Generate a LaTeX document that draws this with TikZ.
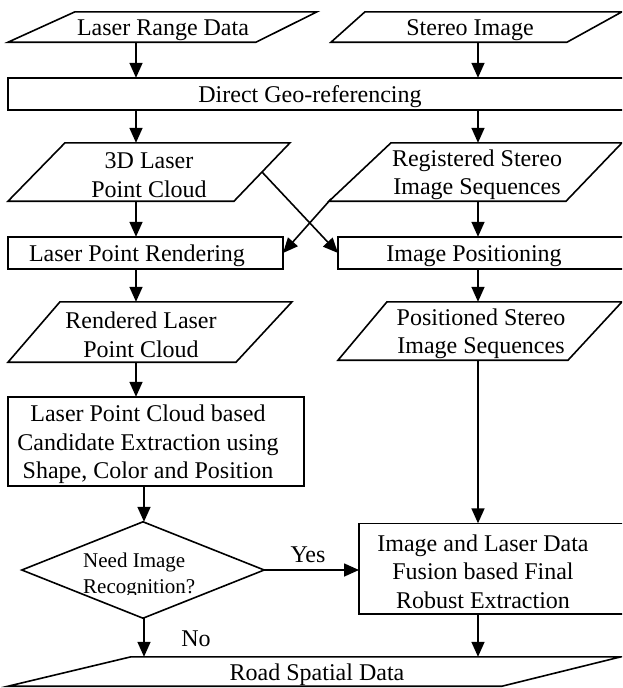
\documentclass[tikz,border=0pt]{standalone}
\usepackage{fontspec}
\setmainfont{Liberation Serif}
\usetikzlibrary{arrows.meta}
\begin{document}
\begin{tikzpicture}[x=1pt,y=-1pt,
  lw/.style={line width=1.6pt},
  shp/.style={lw, line join=miter},
  arr/.style={lw, -{Triangle[length=15pt,width=13pt]}},
  frame/.style={inner sep=0pt, minimum height=#1},
  txt/.style={inner sep=0pt, align=center, font=\fontsize{24}{28.5}\selectfont},
  small/.style={inner sep=0pt, font=\fontsize{21}{28}\selectfont},
  lab/.style={inner sep=0pt, font=\fontsize{24}{28.5}\selectfont}]
\useasboundingbox (0,0) rectangle (622,688);
\clip (0,0) rectangle (622,688);

\coordinate (cL) at (136,0);
\coordinate (cM) at (144,0);
\coordinate (cR) at (478,0);

% inputs
\node[frame=30] (lrd) at (163,27) {};
\node[txt] (lrdt) at ([yshift=-3pt]lrd.center) {Laser Range Data};
\draw[shp] ([xshift=-155pt]lrd.south) -- ([xshift=93pt]lrd.south) -- ([xshift=154pt]lrd.north) -- ([xshift=-88pt]lrd.north) -- cycle;
\node[frame=30] (si) at (470,27) {};
\node[txt] (sit) at ([yshift=-3pt]si.center) {Stereo Image};
\draw[shp] ([xshift=-139pt]si.south) -- ([xshift=97pt]si.south) -- ([xshift=152pt]si.north) -- ([xshift=-105pt]si.north) -- cycle;

% direct geo-referencing
\node[frame=32] (dg) at (310,94) {};
\node[txt] (dgt) at ([yshift=-3pt]dg.center) {Direct Geo-referencing};
\draw[shp] ([xshift=-302pt]dg.north) rectangle ([xshift=315pt]dg.south);

% clouds / sequences
\node[frame=58] (p3d) at (149,172) {};
\node[txt] (p3dt) at ([yshift=-3pt]p3d.center) {3D Laser\\Point Cloud};
\draw[shp] ([xshift=-141pt]p3d.south) -- ([xshift=85pt]p3d.south) -- ([xshift=141pt]p3d.north) -- ([xshift=-84pt]p3d.north) -- cycle;
\node[frame=58] (reg) at (477,172) {};
\node[txt] (regt) at ([yshift=-3pt]reg.center) {Registered Stereo\\Image Sequences};
\draw[shp] ([xshift=-148pt]reg.south) -- ([xshift=89pt]reg.south) -- ([xshift=145pt]reg.north) -- ([xshift=-86pt]reg.north) -- cycle;

% rendering / positioning
\node[frame=32] (lpr) at (137,253) {};
\node[txt] (lprt) at ([yshift=-3pt]lpr.center) {Laser Point Rendering};
\draw[shp] ([xshift=-129pt]lpr.north) rectangle ([xshift=146pt]lpr.south);
\node[frame=32] (ip) at (474,253) {};
\node[txt] (ipt) at ([yshift=-3pt]ip.center) {Image Positioning};
\draw[shp] ([xshift=-136pt]ip.north) rectangle ([xshift=151pt]ip.south);

% rendered / positioned
\node[frame=60] (rend) at (141,332) {};
\node[txt] (rendt) at ([yshift=-3pt]rend.center) {Rendered Laser\\Point Cloud};
\draw[shp] ([xshift=-133pt]rend.south) -- ([xshift=95pt]rend.south) -- ([xshift=151pt]rend.north) -- ([xshift=-81pt]rend.north) -- cycle;
\node[frame=58] (pos) at (481,331) {};
\node[txt] (post) at ([yshift=-3pt]pos.center) {Positioned Stereo\\Image Sequences};
\draw[shp] ([xshift=-143pt]pos.south) -- ([xshift=87pt]pos.south) -- ([xshift=141pt]pos.north) -- ([xshift=-94pt]pos.north) -- cycle;

% candidate extraction
\node[frame=89] (lpc) at (148,441.5) {};
\node[txt] (lpct) at ([yshift=-3pt]lpc.center) {Laser Point Cloud based\\Candidate Extraction using\\Shape, Color and Position};
\draw[shp] ([xshift=-140pt]lpc.north) rectangle ([xshift=156pt]lpc.south);

% decision
\node[inner sep=0pt, minimum width=242pt, minimum height=96pt] (dia) at (143,570) {};
\draw[shp] (dia.north) -- (dia.east) -- (dia.south) -- (dia.west) -- cycle;
\begin{scope}
  \clip (78,540) rectangle (215,594.5);
  \node[small, anchor=base west] (dq1) at (83,567) {Need Image};
  \node[small, anchor=base west] (dq2) at (83,593) {Recognition?};
\end{scope}

% fusion
\node[frame=90] (fus) at (483,568.5) {};
\node[txt] (fust) at ([yshift=-3pt]fus.center) {Image and Laser Data\\Fusion based Final\\Robust Extraction};
\draw[shp] ([xshift=-124pt]fus.north) rectangle ([xshift=142pt]fus.south);

% output
\node[frame=29] (road) at (317,671.5) {};
\node[txt] (roadt) at ([yshift=-3pt]road.center) {Road Spatial Data};
\draw[shp] ([xshift=-309pt]road.south) -- ([xshift=185pt]road.south) -- ([xshift=304pt]road.north) -- ([xshift=-186pt]road.north) -- cycle;

% labels
\node[lab] (yes) at (308,555) {Yes};
\node[lab] (no) at (196,639) {No};

% connectors
\draw[arr] (lrd.south -| cL) -- (dg.north -| cL);
\draw[arr] (si.south -| cR) -- (dg.north -| cR);
\draw[arr] (dg.south -| cL) -- (p3d.north -| cL);
\draw[arr] (dg.south -| cR) -- (reg.north -| cR);
\draw[arr] (p3d.south -| cL) -- (lpr.north -| cL);
\draw[arr] (reg.south -| cR) -- (ip.north -| cR);
\draw[arr] ([xshift=113pt]p3d.center) -- ([xshift=-136pt]ip.center);
\draw[arr] ([xshift=-146pt,yshift=-27pt]reg.center) -- ([xshift=146pt]lpr.center);
\draw[arr] (lpr.south -| cL) -- (rend.north -| cL);
\draw[arr] (ip.south -| cR) -- (pos.north -| cR);
\draw[arr] (rend.south -| cL) -- (lpc.north -| cL);
\draw[arr] (pos.south -| cR) -- (fus.north -| cR);
\draw[arr] (lpc.south -| cM) -- (dia.north -| cM);
\draw[arr] (dia.east) -- ([xshift=-124pt]fus.center |- dia.east);
\draw[arr] (dia.south -| cM) -- (road.north -| cM);
\draw[arr] (fus.south -| cR) -- (road.north -| cR);
\end{tikzpicture}
\end{document}
